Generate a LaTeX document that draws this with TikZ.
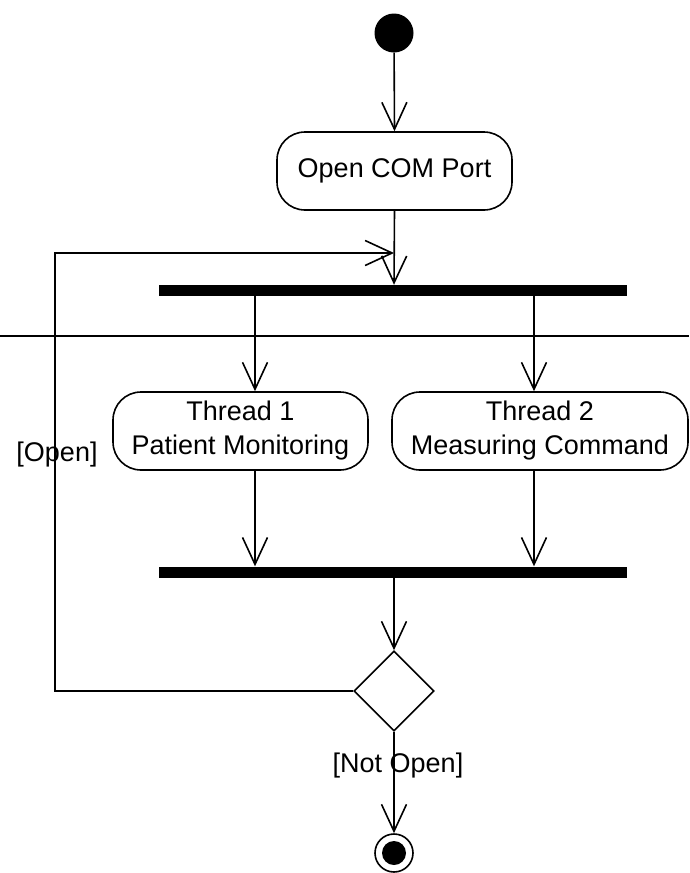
\documentclass[tikz,border=0pt]{standalone}
\usepackage{fontspec}
\setmainfont{Liberation Sans}
\usetikzlibrary{arrows.meta,shapes.geometric}
\tikzset{
  flow/.style={line width=1.6pt,-{Straight Barb[length=27pt,width=25pt,line width=1.6pt]}},
  activity/.style={draw,line width=1.6pt,rounded corners=28pt,align=center,inner sep=0pt,
    font=\fontsize{27}{34}\selectfont},
  syncbar/.style={fill=black,inner sep=0pt,minimum width=468pt,minimum height=11pt},
  guard/.style={font=\fontsize{27}{30}\selectfont,inner sep=0pt}
}
\begin{document}
\begin{tikzpicture}[x=1pt,y=-1pt]
\useasboundingbox (0,0) rectangle (689,873);

% initial and final states
\node[circle,fill=black,minimum size=39pt,inner sep=0pt] (start) at (394,33) {};
\node[circle,draw,line width=1.6pt,minimum size=38pt,inner sep=0pt] (final) at (394,853) {};
\node[circle,fill=black,minimum size=24pt,inner sep=0pt] (finaldot) at (final) {};

% activities
\node[activity,minimum width=235pt,minimum height=78pt] (com) at (394.5,171) {Open COM Port};
\node[activity,minimum width=255pt,minimum height=78pt] (t1) at (240.5,431) {Thread 1\\Patient Monitoring};
\node[activity,minimum width=296pt,minimum height=78pt] (t2) at (540,431) {Thread 2\\Measuring Command};

% fork / join bars
\node[syncbar] (fork) at (393,290.5) {};
\node[syncbar] (join) at (393,572) {};

% decision
\node[diamond,draw,line width=1.6pt,minimum width=80pt,minimum height=80pt,inner sep=0pt] (dec) at (394,691) {};

% branch positions on the bars
\coordinate (b1) at (255,0);
\coordinate (b2) at (534,0);
\coordinate (mid) at (394,0);
\coordinate (loopL) at (55,0);

% separator line
\coordinate (sepL) at (0,336);
\coordinate (sepR) at (689,336);
\draw[line width=1.2pt] (sepL) -- (sepR);

% control flow
\draw[flow] (start) -- (com.north);
\draw[flow] (com.south) -- (fork.north -| mid);
\draw[flow] (fork.south -| b1) -- (t1.north -| b1);
\draw[flow] (fork.south -| b2) -- (t2.north -| b2);
\draw[flow] (t1.south -| b1) -- (join.north -| b1);
\draw[flow] (t2.south -| b2) -- (join.north -| b2);
\draw[flow] (join.south -| mid) -- (dec.north);
\draw[flow] (dec.south) -- (final.north);

% loop back
\coordinate (looptop) at (394,253);
\draw[flow] (dec.west) -- (dec.west -| loopL) -- (looptop -| loopL) -- (looptop);

% guards
\node[guard] (gopen) at (57,455) {[Open]};
\node[guard] (gnot) at (398,766) {[Not Open]};
\end{tikzpicture}
\end{document}
